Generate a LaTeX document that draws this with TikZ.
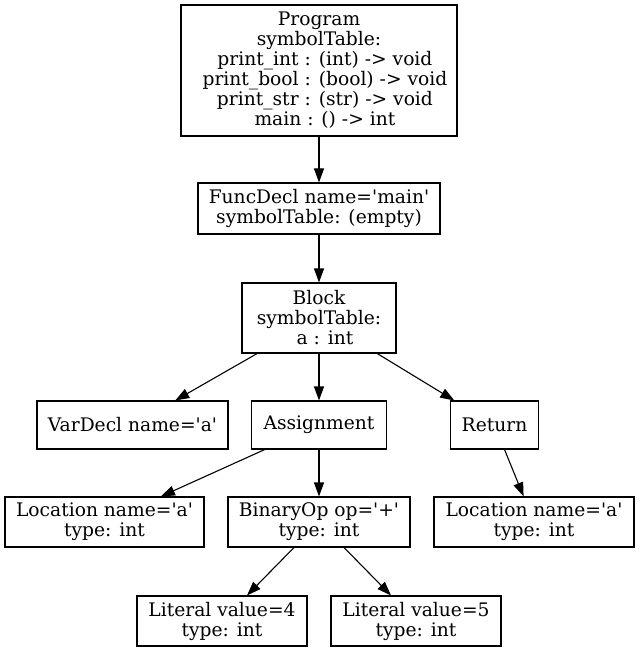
\documentclass[tikz,border=0pt]{standalone}
\usepackage{fontspec}
\setmainfont{DejaVu Serif}
\usetikzlibrary{arrows.meta}
\newcommand\sq{\textquotesingle}
\newcommand\ind{\hspace*{0.636em}}

\begin{document}
\begin{tikzpicture}[x=1pt,y=-1pt,
  astnode/.style={draw, line width=1.1pt, rectangle, inner sep=0pt, align=center,
    font=\fontsize{18.67}{20}\selectfont},
  astedge/.style={line width=1.1pt, -{Triangle[length=14pt,width=10pt]}}]
\fill[white] (0,0) rectangle (639,652);
\useasboundingbox (0,0) rectangle (639,652);

% tree nodes
\node[astnode, minimum width=276pt, minimum height=131pt] (prog) at (319,70.5)
  {Program\\symbolTable:\\\ind print\_int : (int) -> void\\\ind print\_bool : (bool) -> void\\\ind print\_str : (str) -> void\\\ind main : () -> int};
\node[astnode, minimum width=242pt, minimum height=51pt] (func) at (319,208.5)
  {FuncDecl name=\sq main\sq\\symbolTable: (empty)};
\node[astnode, minimum width=154pt, minimum height=70pt] (block) at (319,318)
  {Block\\symbolTable:\\\ind a : int};
\node[astnode, minimum width=191pt, minimum height=48pt] (vardecl) at (132.5,425)
  {VarDecl name=\sq a\sq};
\node[astnode, minimum width=135pt, minimum height=48pt] (assign) at (319,425)
  {Assignment};
\node[astnode, minimum width=88pt, minimum height=48pt] (ret) at (494.5,425)
  {Return};
\node[astnode, minimum width=199pt, minimum height=50pt] (loc1) at (104.5,522)
  {Location name=\sq a\sq\\type: int};
\node[astnode, minimum width=182pt, minimum height=50pt] (binop) at (319,522)
  {BinaryOp op=\sq+\sq\\type: int};
\node[astnode, minimum width=200pt, minimum height=50pt] (loc2) at (534,522)
  {Location name=\sq a\sq\\type: int};
\node[astnode, minimum width=170pt, minimum height=50pt] (lit4) at (222,621)
  {Literal value=4\\type: int};
\node[astnode, minimum width=170pt, minimum height=50pt] (lit5) at (416,621)
  {Literal value=5\\type: int};

% connectors
\draw[astedge] (prog) -- (func);
\draw[astedge] (func) -- (block);
\draw[astedge] (block) -- (vardecl);
\draw[astedge] (block) -- (assign);
\draw[astedge] (block) -- (ret);
\draw[astedge] (assign) -- (loc1);
\draw[astedge] (assign) -- (binop);
\draw[astedge] (ret) -- (loc2);
\draw[astedge] (binop) -- (lit4);
\draw[astedge] (binop) -- (lit5);
\end{tikzpicture}
\end{document}
